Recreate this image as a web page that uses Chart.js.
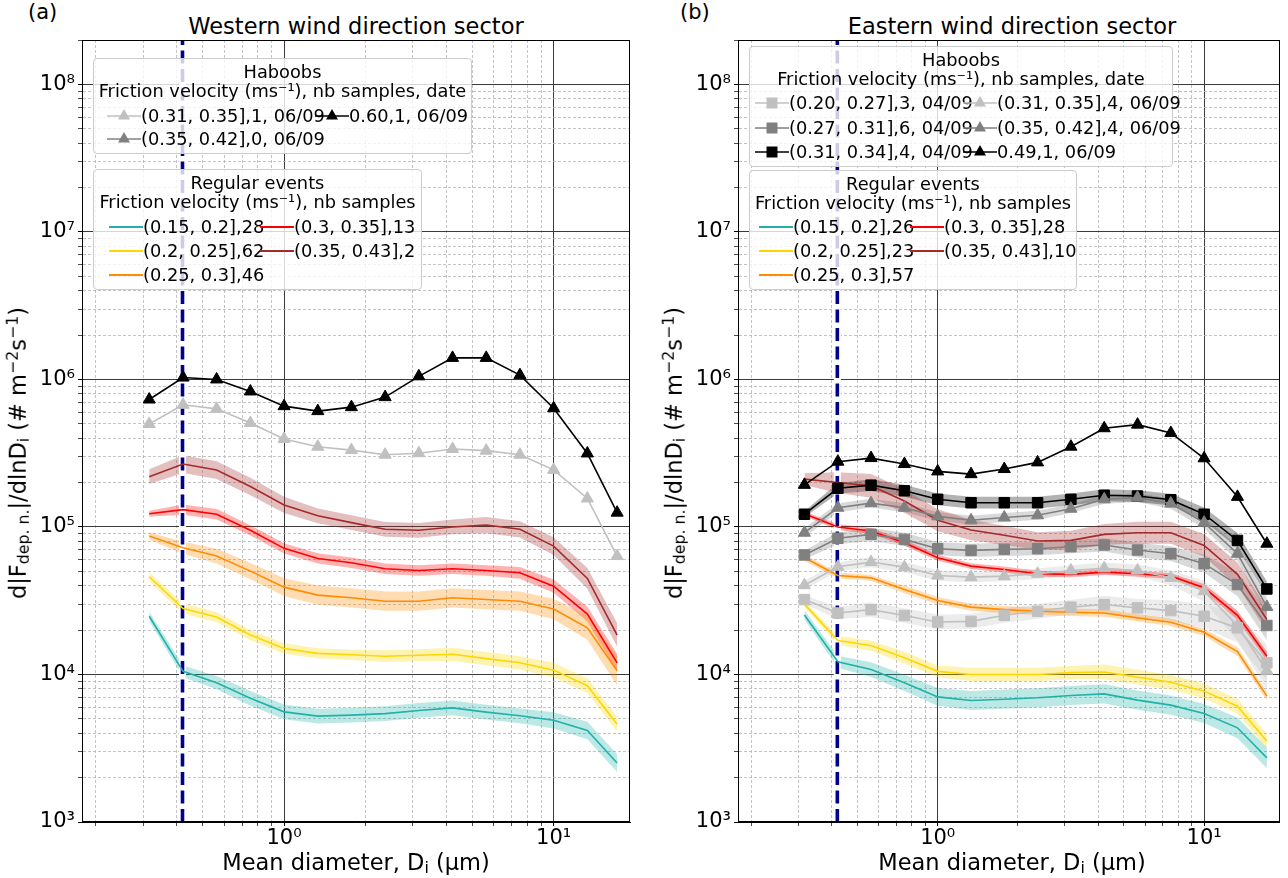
<!DOCTYPE html>
<html>
<head>
<meta charset="utf-8">
<script src="https://cdn.jsdelivr.net/npm/chart.js@4.4.1/dist/chart.umd.min.js"></script>
<style>
  html, body { margin: 0; padding: 0; background: #ffffff; }
  body { width: 1288px; height: 878px; position: relative; overflow: hidden;
         font-family: "DejaVu Sans", sans-serif; color: #000; }
  canvas { position: absolute; top: 0; }
  .tag, .title, .xlab, .ylab { position: absolute; white-space: nowrap; line-height: 1; }
  .tag { font-size: 21px; transform: translateY(-50%); }
  .title { font-size: 22.5px; transform: translate(-50%, -50%); }
  .xlab { font-size: 22.5px; transform: translate(-50%, -50%); }
  .ylab { font-size: 22.5px; transform: translate(-50%, -50%) rotate(-90deg); }
  sub, sup { font-size: 70%; line-height: 0; }
  sub { vertical-align: -0.22em; }
  sup { vertical-align: 0.5em; }
  .legend { position: absolute; box-sizing: border-box; background: rgba(255,255,255,0.8);
            border: 1px solid #cccccc; border-radius: 4px; font-size: 17.8px; }
  .legend .ltitle { position: absolute; left: 0; right: 0; text-align: center;
                    transform: translateY(-50%); line-height: 1.2; white-space: nowrap; }
  .legend .ltext { position: absolute; transform: translateY(-50%); line-height: 1.2; white-space: nowrap; }
  .legend svg { position: absolute; overflow: visible; }
</style>
</head>
<body>

<div class="tag" style="left:28px; top:12px;">(a)</div>
<div class="title" style="left:356px; top:26px;">Western wind direction sector</div>
<canvas id="west" width="640" height="878" style="left:0px; width:640px; height:878px;"></canvas>
<div class="ylab" style="left:18px; top:453px;">d|F<sub>dep. n.</sub>|/dlnD<sub>i</sub> (# m<sup>−2</sup>s<sup>−1</sup>)</div>
<div class="xlab" style="left:356px; top:862px;">Mean diameter, D<sub>i</sub> (µm)</div>

<div class="tag" style="left:680px; top:12px;">(b)</div>
<div class="title" style="left:1012px; top:26px;">Eastern wind direction sector</div>
<canvas id="east" width="632" height="878" style="left:656px; width:632px; height:878px;"></canvas>
<div class="ylab" style="left:674px; top:453px;">d|F<sub>dep. n.</sub>|/dlnD<sub>i</sub> (# m<sup>−2</sup>s<sup>−1</sup>)</div>
<div class="xlab" style="left:1012px; top:862px;">Mean diameter, D<sub>i</sub> (µm)</div>

<script>
// ---- size bins (µm) shared by every curve ----
const diameters = [0.316, 0.422, 0.562, 0.750, 1.0, 1.334, 1.778, 2.371, 3.162, 4.217, 5.623, 7.499, 10.0, 13.34, 17.2];
const cutoffDiameter = 0.42;

// ---- axis limits and labelled ticks ----
const xRange = [0.178, 19.2];
const yRange = [1e3, 2e8];
const xMajorTicks = [1, 10];
const xTickLabels = ['10⁰', '10¹'];
const yMajorTicks = [1e3, 1e4, 1e5, 1e6, 1e7, 1e8];
const yTickLabels = ['10³', '10⁴', '10⁵', '10⁶', '10⁷', '10⁸'];

// ---- Western sector, regular events: mean flux and log10 half-width of the spread ----
const westReg015 = [2.48e4, 1.05e4, 8.8e3, 6.9e3, 5.58e3, 5.22e3, 5.3e3, 5.43e3, 5.7e3, 5.94e3, 5.56e3, 5.25e3, 4.89e3, 4.17e3, 2.51e3];
const westReg015Spread = [0.03, 0.04, 0.045, 0.05, 0.05, 0.05, 0.05, 0.05, 0.05, 0.05, 0.05, 0.05, 0.055, 0.06, 0.06];
const westReg020 = [4.6e4, 2.8e4, 2.45e4, 1.85e4, 1.5e4, 1.39e4, 1.36e4, 1.33e4, 1.35e4, 1.37e4, 1.28e4, 1.2e4, 1.07e4, 8.4e3, 4.6e3];
const westReg020Spread = [0.03, 0.035, 0.035, 0.035, 0.035, 0.035, 0.035, 0.04, 0.04, 0.045, 0.045, 0.045, 0.05, 0.05, 0.05];
const westReg025 = [8.69e4, 7.23e4, 6.35e4, 5.02e4, 3.91e4, 3.45e4, 3.31e4, 3.14e4, 3.14e4, 3.31e4, 3.22e4, 3.14e4, 2.78e4, 2.07e4, 1.06e4];
const westReg025Spread = [0.025, 0.04, 0.05, 0.055, 0.06, 0.065, 0.065, 0.065, 0.065, 0.065, 0.065, 0.065, 0.07, 0.08, 0.1];
const westReg030 = [1.23e5, 1.31e5, 1.22e5, 9.49e4, 7.16e4, 6.12e4, 5.72e4, 5.21e4, 5.07e4, 5.21e4, 5.07e4, 4.89e4, 3.97e4, 2.57e4, 1.2e4];
const westReg030Spread = [0.02, 0.035, 0.035, 0.035, 0.035, 0.035, 0.035, 0.035, 0.035, 0.035, 0.035, 0.04, 0.045, 0.05, 0.06];
const westReg035 = [2.19e5, 2.67e5, 2.43e5, 1.88e5, 1.41e5, 1.19e5, 1.07e5, 9.64e4, 9.49e4, 1.0e5, 1.03e5, 9.64e4, 7.42e4, 4.48e4, 1.85e4];
const westReg035Spread = [0.05, 0.06, 0.06, 0.06, 0.055, 0.05, 0.05, 0.05, 0.05, 0.05, 0.055, 0.055, 0.06, 0.07, 0.08];

// ---- Western sector, haboobs ----
const westHab031 = [4.99e5, 6.73e5, 6.32e5, 5.07e5, 3.95e5, 3.50e5, 3.32e5, 3.09e5, 3.16e5, 3.38e5, 3.29e5, 3.09e5, 2.44e5, 1.56e5, 6.35e4];
const westHab035 = [];
const westHab060 = [7.31e5, 1.03e6, 1.0e6, 8.29e5, 6.59e5, 6.1e5, 6.49e5, 7.59e5, 1.05e6, 1.40e6, 1.40e6, 1.07e6, 6.38e5, 3.15e5, 1.25e5];

// ---- Eastern sector, regular events ----
const eastReg015 = [2.53e4, 1.22e4, 1.08e4, 8.78e3, 7.05e3, 6.66e3, 6.8e3, 6.95e3, 7.2e3, 7.39e3, 6.7e3, 6.2e3, 5.44e3, 4.35e3, 2.72e3];
const eastReg015Spread = [0.03, 0.04, 0.05, 0.055, 0.06, 0.065, 0.065, 0.065, 0.065, 0.065, 0.065, 0.065, 0.065, 0.07, 0.07];
const eastReg020 = [3.0e4, 1.70e4, 1.57e4, 1.30e4, 1.05e4, 1.0e4, 1.0e4, 1.0e4, 1.03e4, 1.04e4, 9.6e3, 8.87e3, 7.71e3, 6.1e3, 3.53e3];
const eastReg020Spread = [0.02, 0.03, 0.035, 0.04, 0.04, 0.045, 0.045, 0.045, 0.045, 0.05, 0.05, 0.05, 0.05, 0.05, 0.05];
const eastReg025 = [6.18e4, 4.69e4, 4.52e4, 3.77e4, 3.17e4, 2.86e4, 2.75e4, 2.68e4, 2.64e4, 2.61e4, 2.42e4, 2.26e4, 1.93e4, 1.43e4, 7.13e3];
const eastReg025Spread = [0.02, 0.02, 0.02, 0.025, 0.025, 0.025, 0.025, 0.025, 0.025, 0.025, 0.025, 0.025, 0.025, 0.03, 0.03];
const eastReg030 = [1.23e5, 1.0e5, 9.4e4, 7.82e4, 6.18e4, 5.43e4, 5.15e4, 4.82e4, 4.77e4, 4.94e4, 4.82e4, 4.64e4, 3.87e4, 2.52e4, 1.33e4];
const eastReg030Spread = [0.015, 0.02, 0.02, 0.02, 0.02, 0.02, 0.02, 0.02, 0.02, 0.02, 0.02, 0.02, 0.025, 0.03, 0.03];
const eastReg035 = [2.11e5, 2.0e5, 1.9e5, 1.5e5, 1.11e5, 9.54e4, 8.78e4, 8.03e4, 8.11e4, 8.91e4, 9.14e4, 9.14e4, 7.5e4, 4.77e4, 2.36e4];
const eastReg035Spread = [0.04, 0.07, 0.08, 0.08, 0.075, 0.07, 0.065, 0.06, 0.065, 0.07, 0.075, 0.075, 0.075, 0.08, 0.08];

// ---- Eastern sector, haboobs ----
const eastHab020 = [3.22e4, 2.61e4, 2.75e4, 2.51e4, 2.27e4, 2.29e4, 2.52e4, 2.68e4, 2.86e4, 2.98e4, 2.83e4, 2.71e4, 2.48e4, 2.07e4, 1.2e4];
const eastHab020Spread = [0.03, 0.04, 0.05, 0.05, 0.05, 0.05, 0.05, 0.05, 0.05, 0.06, 0.06, 0.07, 0.08, 0.1, 0.12];
const eastHab027 = [6.46e4, 8.38e4, 8.91e4, 8.24e4, 7.12e4, 6.94e4, 7.05e4, 7.12e4, 7.35e4, 7.55e4, 6.98e4, 6.59e4, 5.64e4, 4.07e4, 2.15e4];
const eastHab027Spread = [0.03, 0.04, 0.045, 0.045, 0.045, 0.045, 0.045, 0.045, 0.045, 0.045, 0.05, 0.05, 0.06, 0.08, 0.1];
const eastHab031sq = [1.22e5, 1.83e5, 1.92e5, 1.76e5, 1.54e5, 1.46e5, 1.46e5, 1.46e5, 1.54e5, 1.64e5, 1.62e5, 1.53e5, 1.22e5, 8.1e4, 3.8e4];
const eastHab031sqSpread = [0.02, 0.035, 0.04, 0.04, 0.04, 0.04, 0.04, 0.04, 0.04, 0.04, 0.04, 0.04, 0.045, 0.05, 0.05];
const eastHab031 = [4.03e4, 5.37e4, 5.78e4, 5.34e4, 4.69e4, 4.57e4, 4.64e4, 4.82e4, 5.07e4, 5.24e4, 5.07e4, 4.52e4, 3.67e4, 2.14e4, 1.06e4];
const eastHab031Spread = [0.03, 0.03, 0.035, 0.035, 0.035, 0.035, 0.035, 0.035, 0.035, 0.04, 0.04, 0.05, 0.07, 0.1, 0.13];
const eastHab035 = [9.14e4, 1.35e5, 1.45e5, 1.35e5, 1.18e5, 1.11e5, 1.16e5, 1.20e5, 1.33e5, 1.54e5, 1.58e5, 1.44e5, 1.07e5, 6.59e4, 2.87e4];
const eastHab035Spread = [0.03, 0.03, 0.03, 0.03, 0.03, 0.03, 0.03, 0.03, 0.03, 0.03, 0.03, 0.035, 0.04, 0.05, 0.06];
const eastHab049 = [1.93e5, 2.77e5, 2.93e5, 2.67e5, 2.38e5, 2.28e5, 2.47e5, 2.74e5, 3.50e5, 4.67e5, 4.94e5, 4.34e5, 2.92e5, 1.6e5, 7.7e4];

// ---- series descriptions ----
const TEAL = '#20b2aa', GOLD = '#ffd700', ORANGE = '#ff8c00', RED = '#ff0000', BROWN = '#a52a2a';
const SILVER = '#c0c0c0', GRAY = '#808080', BLACK = '#000000';

const westRegular = [
  { label: '(0.15, 0.2],28',  color: TEAL,   values: westReg015, spread: westReg015Spread },
  { label: '(0.2, 0.25],62',  color: GOLD,   values: westReg020, spread: westReg020Spread },
  { label: '(0.25, 0.3],46',  color: ORANGE, values: westReg025, spread: westReg025Spread },
  { label: '(0.3, 0.35],13',  color: RED,    values: westReg030, spread: westReg030Spread },
  { label: '(0.35, 0.43],2',  color: BROWN,  values: westReg035, spread: westReg035Spread }
];
const westHaboobs = [
  { label: '(0.31, 0.35],1, 06/09', color: SILVER, marker: 'triangle', values: westHab031 },
  { label: '(0.35, 0.42],0, 06/09', color: GRAY,   marker: 'triangle', values: westHab035 },
  { label: '0.60,1, 06/09',         color: BLACK,  marker: 'triangle', values: westHab060 }
];
const eastRegular = [
  { label: '(0.15, 0.2],26',  color: TEAL,   values: eastReg015, spread: eastReg015Spread },
  { label: '(0.2, 0.25],23',  color: GOLD,   values: eastReg020, spread: eastReg020Spread },
  { label: '(0.25, 0.3],57',  color: ORANGE, values: eastReg025, spread: eastReg025Spread },
  { label: '(0.3, 0.35],28',  color: RED,    values: eastReg030, spread: eastReg030Spread },
  { label: '(0.35, 0.43],10', color: BROWN,  values: eastReg035, spread: eastReg035Spread }
];
const eastHaboobs = [
  { label: '(0.20, 0.27],3, 04/09', color: SILVER, marker: 'square',   values: eastHab020,   spread: eastHab020Spread },
  { label: '(0.27, 0.31],6, 04/09', color: GRAY,   marker: 'square',   values: eastHab027,   spread: eastHab027Spread },
  { label: '(0.31, 0.34],4, 04/09', color: BLACK,  marker: 'square',   values: eastHab031sq, spread: eastHab031sqSpread },
  { label: '(0.31, 0.35],4, 06/09', color: SILVER, marker: 'triangle', values: eastHab031,   spread: eastHab031Spread },
  { label: '(0.35, 0.42],4, 06/09', color: GRAY,   marker: 'triangle', values: eastHab035,   spread: eastHab035Spread },
  { label: '0.49,1, 06/09',         color: BLACK,  marker: 'triangle', values: eastHab049 }
];

const HABOOB_TITLE = ['Haboobs', 'Friction velocity (ms⁻¹), nb samples, date'];
const REGULAR_TITLE = ['Regular events', 'Friction velocity (ms⁻¹), nb samples'];

// ---- helpers ----
function withAlpha(hex, a) {
  const n = parseInt(hex.slice(1), 16);
  return `rgba(${(n >> 16) & 255},${(n >> 8) & 255},${n & 255},${a})`;
}
const toPoints = (vals, factor) => vals.map((v, i) => ({ x: diameters[i], y: factor ? v * Math.pow(10, factor[i]) : v }));
const isAt = (v, list) => list.findIndex(m => Math.abs(m - v) / m < 1e-9);

// 1..9 × 10^n grid positions inside a range
function gridValues(range) {
  const out = [];
  for (let e = Math.floor(Math.log10(range[0])); e <= Math.ceil(Math.log10(range[1])); e++) {
    for (let m = 1; m <= 9; m++) {
      const v = Number((m * Math.pow(10, e)).toPrecision(6));
      if (v >= range[0] * 0.9999 && v <= range[1] * 1.0001) out.push(v);
    }
  }
  return out;
}

function buildDatasets(regular, haboobs) {
  const ds = [];
  // shaded spread around each mean curve
  [...regular, ...haboobs].forEach(s => {
    if (!s.spread || !s.values.length) return;
    const neg = s.spread.map(v => -v);
    ds.push({ data: toPoints(s.values, s.spread), fill: '+1', backgroundColor: withAlpha(s.color, 0.3),
              borderColor: 'rgba(0,0,0,0)', borderWidth: 1, pointRadius: 0, order: 40 });
    ds.push({ data: toPoints(s.values, neg), fill: false,
              borderColor: 'rgba(0,0,0,0)', borderWidth: 1, pointRadius: 0, order: 40 });
  });
  // cut-off diameter marker
  const vline = [{ x: cutoffDiameter, y: yRange[0] }, { x: cutoffDiameter, y: yRange[1] }];
  ds.push({ data: vline, borderColor: '#ffffff', borderWidth: 7, pointRadius: 0, fill: false, order: 30 });
  ds.push({ data: vline, borderColor: '#00008b', borderWidth: 3.6, borderDash: [13, 5.5], pointRadius: 0, fill: false, order: 29 });
  // regular-event mean curves
  regular.forEach(s => ds.push({ data: toPoints(s.values), borderColor: s.color, borderWidth: 1.6,
                                 pointRadius: 0, fill: false, order: 20 }));
  // haboob curves with markers
  haboobs.forEach((s, k) => ds.push({
    data: toPoints(s.values), borderColor: s.color, backgroundColor: s.color, borderWidth: 1.6, fill: false,
    pointStyle: s.marker === 'square' ? 'rect' : 'triangle', pointRadius: s.marker === 'square' ? 7.4 : 7,
    pointBorderColor: s.color, pointBackgroundColor: s.color, pointBorderWidth: 1, order: 10 - k
  }));
  return ds;
}

function scaleConfig(axis) {
  const range = axis === 'x' ? xRange : yRange;
  const majors = axis === 'x' ? xMajorTicks : yMajorTicks;
  const labels = axis === 'x' ? xTickLabels : yTickLabels;
  const lines = gridValues(range);
  const major = c => c.tick && isAt(c.tick.value, majors) >= 0;
  return {
    type: 'logarithmic',
    min: range[0], max: range[1],
    afterBuildTicks: s => { s.ticks = lines.map(v => ({ value: v })); },
    afterFit: s => { if (axis === 'x') s.height = 56; else s.width = 82; },
    ticks: {
      autoSkip: false, maxRotation: 0, minRotation: 0, color: '#000',
      font: { size: 21, family: "'DejaVu Sans'" }, padding: axis === 'x' ? 0 : 3,
      callback: v => { const i = isAt(v, majors); return i >= 0 ? labels[i] : ''; }
    },
    grid: {
      color: c => major(c) ? '#3a3a3a' : '#b4b4b4',
      lineWidth: c => major(c) ? 1 : 0.8,
      tickLength: 4, tickColor: '#000', tickWidth: c => major(c) ? 1 : 0.7
    },
    border: { display: true, color: '#000', width: 1, dash: c => (c.tick && !major(c)) ? [3, 2] : [] }
  };
}

// closes the plotting box on the top and right sides
const frameBox = {
  id: 'frameBox',
  afterDraw(chart) {
    const { ctx, chartArea: a } = chart;
    ctx.save();
    ctx.strokeStyle = '#000';
    ctx.lineWidth = 1;
    const l = Math.round(a.left) + 0.5, t = Math.round(a.top) + 0.5;
    const r = Math.round(a.right) - 0.5, b = Math.round(a.bottom) - 0.5;
    ctx.strokeRect(l, t, r - l, b - t);
    ctx.restore();
  }
};

function makeChart(id, regular, haboobs, rightPad) {
  return new Chart(document.getElementById(id), {
    type: 'line',
    data: { datasets: buildDatasets(regular, haboobs) },
    options: {
      responsive: false, animation: false, events: [],
      layout: { padding: { left: 0, right: rightPad, top: 40, bottom: 0 } },
      elements: { line: { tension: 0 } },
      plugins: { legend: { display: false }, tooltip: { enabled: false }, title: { display: false } },
      scales: { x: scaleConfig('x'), y: scaleConfig('y') }
    },
    plugins: [frameBox]
  });
}

Chart.defaults.font.family = "'DejaVu Sans'";
makeChart('west', westRegular, westHaboobs, 10);
makeChart('east', eastRegular, eastHaboobs, 2);

// ---- legends ----
const SVG_NS = 'http://www.w3.org/2000/svg';
function handle(series) {
  const svg = document.createElementNS(SVG_NS, 'svg');
  svg.setAttribute('width', '34'); svg.setAttribute('height', '16');
  const line = document.createElementNS(SVG_NS, 'line');
  line.setAttribute('x1', '0'); line.setAttribute('x2', '34');
  line.setAttribute('y1', '8'); line.setAttribute('y2', '8');
  line.setAttribute('stroke', series.color); line.setAttribute('stroke-width', series.marker ? '1.6' : '2');
  svg.appendChild(line);
  if (series.marker === 'triangle') {
    const p = document.createElementNS(SVG_NS, 'polygon');
    p.setAttribute('points', '17,1 23,11.5 11,11.5');
    p.setAttribute('fill', series.color);
    svg.appendChild(p);
  } else if (series.marker === 'square') {
    const r = document.createElementNS(SVG_NS, 'rect');
    r.setAttribute('x', '11.5'); r.setAttribute('y', '2.5'); r.setAttribute('width', '11'); r.setAttribute('height', '11');
    r.setAttribute('fill', series.color);
    svg.appendChild(r);
  }
  return svg;
}

function buildLegend(spec) {
  const box = document.createElement('div');
  box.className = 'legend';
  Object.assign(box.style, { left: spec.box[0] + 'px', top: spec.box[1] + 'px', width: spec.box[2] + 'px', height: spec.box[3] + 'px' });
  spec.titles.forEach((t, i) => {
    const d = document.createElement('div');
    d.className = 'ltitle';
    d.textContent = t;
    d.style.top = (spec.titleY[i] - spec.box[1] - 1) + 'px';
    box.appendChild(d);
  });
  const perCol = Math.ceil(spec.series.length / 2);
  spec.series.forEach((s, k) => {
    const col = Math.floor(k / perCol), row = k % perCol;
    const cx = spec.cols[col] - spec.box[0] - 1;
    const cy = spec.rows[row] - spec.box[1] - 1;
    const svg = handle(s);
    svg.style.left = cx + 'px'; svg.style.top = (cy - 8) + 'px';
    box.appendChild(svg);
    const t = document.createElement('div');
    t.className = 'ltext';
    t.textContent = s.label;
    t.style.left = (cx + 34) + 'px'; t.style.top = cy + 'px';
    box.appendChild(t);
  });
  document.body.appendChild(box);
}

buildLegend({ box: [93, 58, 379, 96], titles: HABOOB_TITLE, titleY: [72, 91], rows: [116, 139], cols: [107, 315], series: westHaboobs });
buildLegend({ box: [93, 169, 329, 121], titles: REGULAR_TITLE, titleY: [183, 202], rows: [227, 251, 275], cols: [109, 260], series: westRegular });
buildLegend({ box: [749, 46, 424, 121], titles: HABOOB_TITLE, titleY: [60, 79], rows: [103, 128, 152], cols: [755, 963], series: eastHaboobs });
buildLegend({ box: [749, 170, 328, 120], titles: REGULAR_TITLE, titleY: [184, 203], rows: [227, 251, 275], cols: [759, 910], series: eastRegular });
</script>
</body>
</html>
